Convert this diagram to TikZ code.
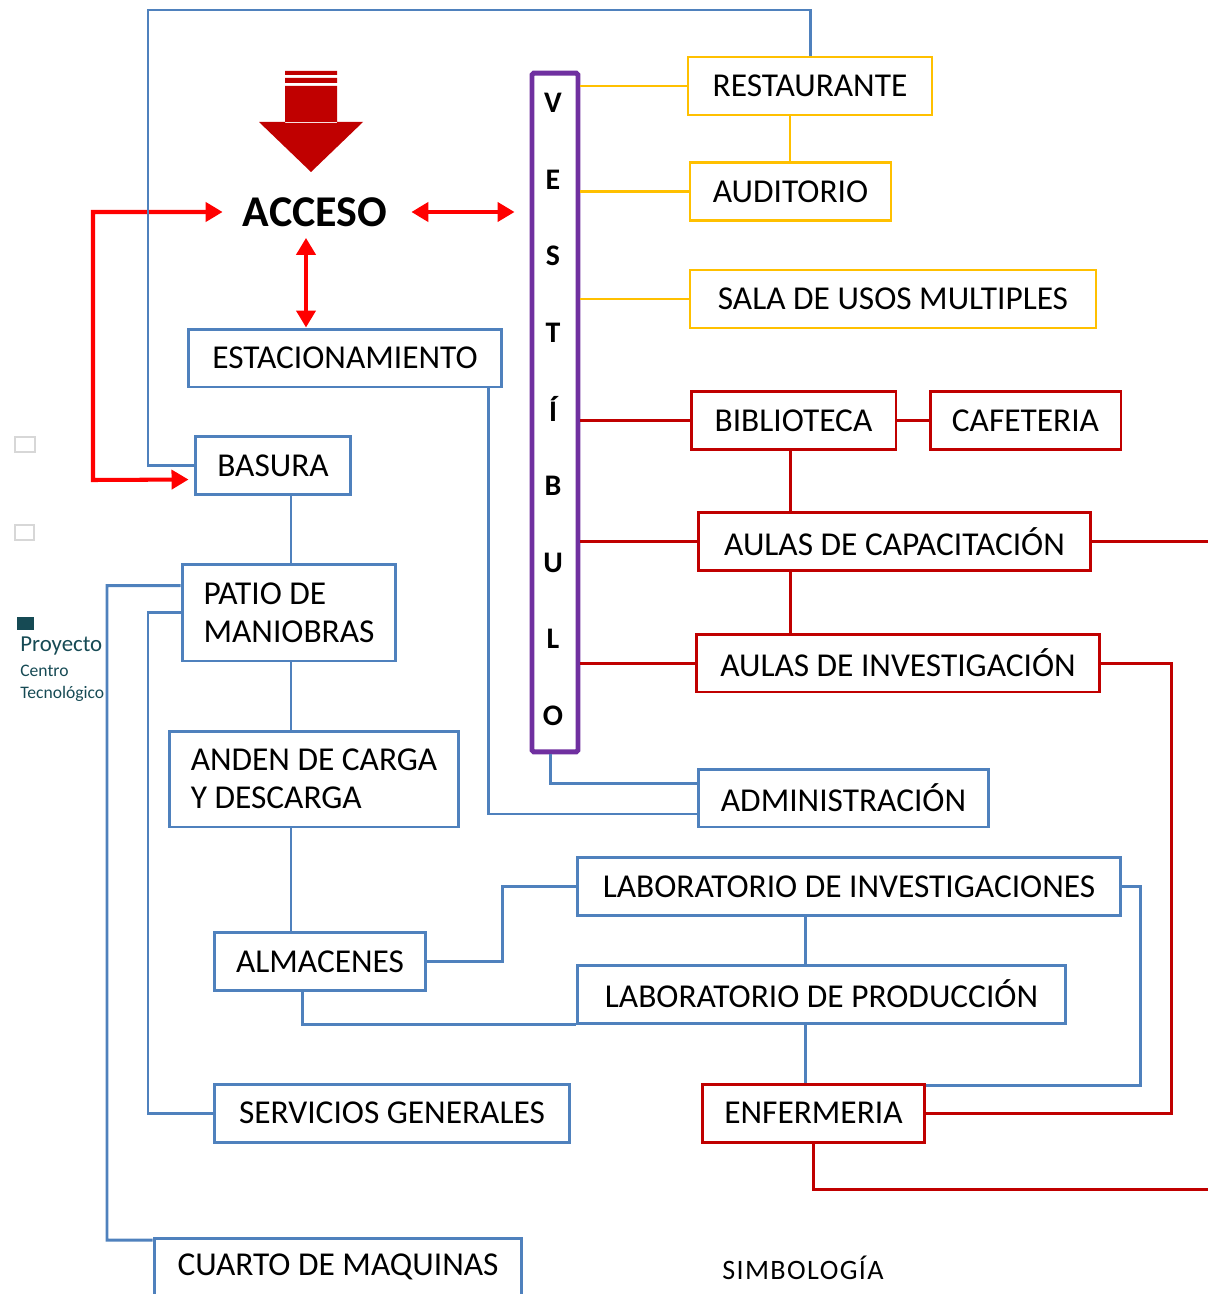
\documentclass[tikz,border=0pt]{standalone}
\usepackage{fontspec}
\setmainfont{Carlito}
\usepackage{tikz}
\usetikzlibrary{arrows.meta, positioning}

\definecolor{azul}{RGB}{79,129,189}
\definecolor{amarillo}{RGB}{255,192,0}
\definecolor{vino}{RGB}{192,0,0}
\definecolor{morado}{RGB}{112,48,160}
\definecolor{rojo}{RGB}{255,0,0}
\definecolor{petroleo}{RGB}{22,74,84}
\definecolor{grisclaro}{RGB}{215,215,215}

\begin{document}
\begin{tikzpicture}[x=0.02cm,y=-0.02cm,>={Triangle[length=0.34cm,width=0.38cm]},
        caja/.style={draw,rectangle,inner sep=0pt,minimum height=1.16cm,align=left,
            font=\fontsize{19}{21.5}\selectfont},
        cajaamarilla/.style={caja,draw=amarillo,line width=1.5pt},
        cajaroja/.style={caja,draw=vino,line width=1.7pt},
        cajaazul/.style={caja,draw=azul,line width=1.7pt},
        linea amarilla/.style={draw=amarillo,line width=1.5pt},
        linea roja/.style={draw=vino,line width=1.7pt},
        linea azul/.style={draw=azul,line width=1.7pt},
        flecha/.style={draw=rojo,line width=2.3pt,<->},
        letra/.style={font=\fontsize{17}{17}\selectfont\bfseries,inner sep=0pt}]

        \useasboundingbox (0,0) rectangle (1207,1294);

        % entrada
        \fill[vino] (285,71) rectangle (337,75)
                    (285,78) rectangle (337,83)
                    (285,86) rectangle (337,123)
                    (259,122) -- (363,122) -- (311,172) -- cycle;
        \node[font=\fontsize{25}{25}\selectfont\bfseries,inner sep=0pt] (acceso) at (315,212) {ACCESO};

        % vestibulo
        \node[draw=morado,line width=2.8pt,rounded corners=1pt,minimum width=0.92cm,
            minimum height=13.58cm,inner sep=0pt] (vest) at (555,412.5) {};
        \foreach \l [count=\i from 0] in {V,E,S,T,Í,B,U,L,O}
            \node[letra] (l\i) at (553,103+76.6*\i) {\l};

        % zonas publicas
        \node[cajaamarilla,minimum width=4.88cm] (rest) at (810,86) {RESTAURANTE};
        \node[cajaamarilla,minimum width=4.02cm] (aud) at (790.5,191.5) {AUDITORIO};
        \node[cajaamarilla,minimum width=8.12cm] (sala) at (893,299) {SALA DE USOS MULTIPLES};

        \node[cajaroja,minimum width=4.1cm] (bib) at (793.5,420.5) {BIBLIOTECA};
        \node[cajaroja,minimum width=3.82cm] (caf) at (1025.5,420.5) {CAFETERIA};
        \node[cajaroja,minimum width=7.86cm] (aucap) at (894.5,541.5) {AULAS DE CAPACITACIÓN};
        \node[cajaroja,minimum width=8.08cm] (auinv) at (898,663) {AULAS DE INVESTIGACIÓN};
        \node[cajaroja,minimum width=4.46cm] (enf) at (813.5,1113) {ENFERMERIA};

        \node[cajaazul,minimum width=5.82cm] (admin) at (843.5,798) {ADMINISTRACIÓN};
        \node[cajaazul,minimum width=10.88cm] (labinv) at (849,886.5) {LABORATORIO DE INVESTIGACIONES};
        \node[cajaazul,minimum width=9.78cm] (labprod) at (821.5,994) {LABORATORIO DE PRODUCCIÓN};

        % servicios
        \node[cajaazul,minimum width=6.28cm] (estac) at (345,358) {ESTACIONAMIENTO};
        \node[cajaazul,minimum width=3.12cm] (basura) at (273,465.5) {BASURA};
        \node[cajaazul,minimum width=4.28cm,minimum height=1.94cm] (patio) at (289,612.5) {PATIO DE\\MANIOBRAS};
        \node[cajaazul,minimum width=5.8cm,minimum height=1.92cm] (anden) at (314,779) {ANDEN DE CARGA\\Y DESCARGA};
        \node[cajaazul,minimum width=4.24cm] (alm) at (320,961.5) {ALMACENES};
        \node[cajaazul,minimum width=7.12cm] (serv) at (392,1113) {SERVICIOS GENERALES};
        \node[cajaazul,minimum width=7.36cm] (cuarto) at (338,1267) {CUARTO DE MAQUINAS};

        \node[font=\fontsize{16}{16}\selectfont\addfontfeatures{LetterSpace=5},inner sep=0pt] (simb) at (803,1268) {SIMBOLOGÍA};

        % leyenda lateral
        \draw[grisclaro,line width=0.8pt] (15,437) rectangle (35,452) (15,525) rectangle (34,540);
        \fill[petroleo] (17,617) rectangle (34,630);
        \node[petroleo,anchor=west,inner sep=0pt,font=\fontsize{13}{13}\selectfont] (proy) at (20,646) {Proyecto};
        \node[petroleo,anchor=west,inner sep=0pt,font=\fontsize{10}{10}\selectfont] (centro) at (20,671) {Centro};
        \node[petroleo,anchor=west,inner sep=0pt,font=\fontsize{10}{10}\selectfont] (tecno) at (20,694) {Tecnológico};

        % accesos
        \draw[flecha,shorten <=0.48cm,shorten >=0.3cm] (acceso.east) -- (vest.west |- acceso.east);
        \draw[flecha] ([xshift=-0.18cm,yshift=-0.22cm]acceso.south) -- ([xshift=-0.18cm]acceso.south |- estac.north);
        \draw[flecha,shorten <=0.4cm,shorten >=0.1cm] (acceso.west) -| (93,480) -- ([yshift=-0.28cm]basura.west);

        % ramas del vestibulo
        \draw[linea amarilla] (vest.east |- rest.west) -- (rest.west);
        \draw[linea amarilla] (vest.east |- aud.west) -- (aud.west);
        \draw[linea amarilla] (vest.east |- sala.west) -- (sala.west);
        \draw[linea amarilla] (rest.south -| 790,0) -- (aud.north -| 790,0);

        \draw[linea roja] (vest.east |- bib.west) -- (bib.west);
        \draw[linea roja] (bib.east) -- (caf.west);
        \draw[linea roja] (bib.south -| 790,0) -- (aucap.north -| 790,0);
        \draw[linea roja] (aucap.south -| 790,0) -- (auinv.north -| 790,0);
        \draw[linea roja] (vest.east |- aucap.west) -- (aucap.west);
        \draw[linea roja] (vest.east |- auinv.west) -- (auinv.west);
        \draw[linea roja] (aucap.east) -- (1210,541.5);
        \draw[linea roja] (auinv.east) -| (1171,1113) -- (enf.east);
        \draw[linea roja] (enf.south) |- (1210,1189);

        \draw[linea azul] (rest.north) |- (148,10) |- (basura.west);
        \draw[linea azul] ([xshift=-0.1cm]vest.south) |- ([yshift=0.3cm]admin.west);
        \draw[linea azul] ([xshift=-0.3cm]estac.south east) |- ([yshift=-0.32cm]admin.west);

        % servicios
        \draw[linea azul] (basura.south -| 291,0) -- (patio.north -| 291,0);
        \draw[linea azul] (patio.south -| 291,0) -- (anden.north -| 291,0);
        \draw[linea azul] (anden.south -| 291,0) -- (alm.north -| 291,0);
        \draw[linea azul] ([yshift=0.54cm]patio.west) -| (107,1240) -- ([yshift=0.54cm]cuarto.west);
        \draw[linea azul] (patio.west) -| (148,1113) -- (serv.west);
        \draw[linea azul] (alm.east) -| (502,886.5) -- (labinv.west);
        \draw[linea azul] ([xshift=-0.36cm]alm.south) |- (labprod.south west);
        \draw[linea azul] (labinv.south -| 805,0) -- (labprod.north -| 805,0);
        \draw[linea azul] (labprod.south -| 805,0) -- (enf.north -| 805,0);
        \draw[linea azul] (labinv.east) -| (1140,1085) -- (enf.north east |- 0,1085);
\end{tikzpicture}
\end{document}
